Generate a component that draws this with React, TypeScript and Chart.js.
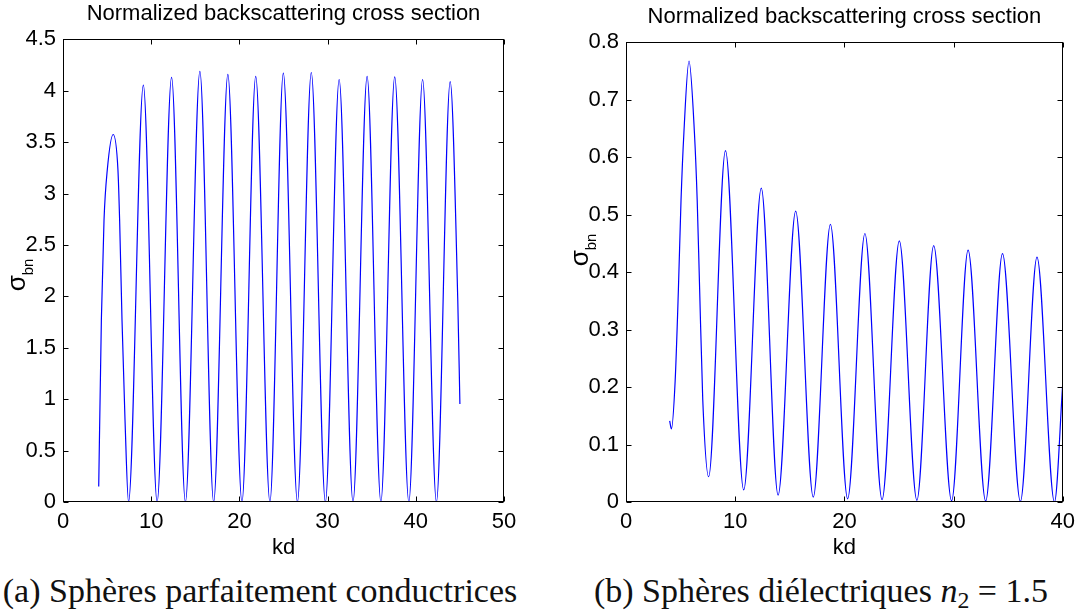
import { useEffect, useRef } from "react";
import { Chart, registerables } from "chart.js";

Chart.register(...registerables);

// ---------- Panel (a): perfectly conducting spheres ----------
const kdA = [4.05, 4.35, 4.65, 5.02, 5.69, 6.23, 6.42, 6.69, 7.03, 7.43, 9.11, 10.67, 12.31, 13.88, 15.52, 17.08, 18.69, 20.29, 21.85, 23.46, 24.98, 26.58, 28.15, 29.75, 31.31, 32.88, 34.48, 36.04, 37.61, 39.21, 40.77, 42.34, 43.9, 44.76, 45.0];
const sigmaA = [0.15, 1.77, 2.74, 3.23, 3.575, 3.23, 2.74, 1.77, 0.8, 0, 4.055, 0, 4.13, 0, 4.188, 0, 4.159, 0, 4.14, 0, 4.172, 0, 4.178, 0, 4.11, 0, 4.14, 0, 4.136, 0, 4.11, 0, 4.09, 1.96, 0.954];
const xTicksA = [0, 10, 20, 30, 40, 50];
const yTicksA = [0, 0.5, 1, 1.5, 2, 2.5, 3, 3.5, 4, 4.5];

// ---------- Panel (b): dielectric spheres n2 = 1.5 ----------
const kdB = [4.0, 4.16, 4.5, 4.8, 5.04, 5.3, 5.77, 6.27, 6.52, 6.73, 7.03, 7.57, 9.11, 10.78, 12.39, 13.93, 15.54, 17.15, 18.72, 20.3, 21.88, 23.45, 25.03, 26.64, 28.18, 29.82, 31.33, 32.94, 34.48, 36.12, 37.64, 39.24, 40.0];
const sigmaB = [0.141, 0.127, 0.21, 0.37, 0.525, 0.641, 0.767, 0.641, 0.525, 0.38, 0.178, 0.044, 0.611, 0.021, 0.546, 0.012, 0.506, 0.0085, 0.483, 0.0056, 0.467, 0.004, 0.454, 0.003, 0.446, 0.002, 0.438, 0.0015, 0.432, 0.001, 0.426, 0.0, 0.207];
const xTicksB = [0, 10, 20, 30, 40];
const yTicksB = [0, 0.1, 0.2, 0.3, 0.4, 0.5, 0.6, 0.7, 0.8];

const TITLE = "Normalized backscattering cross section";
const XLABEL = "kd";
const YSYM = "σ";
const YSUB = "bn";
const FONT = "'Liberation Sans', Arial, Helvetica, sans-serif";

const framePlugin = {
  id: "frame",
  afterDraw(chart: any, _args: any, opts: any) {
    const { ctx, chartArea: a, scales } = chart;
    const L = Math.round(a.left) + 0.5;
    const R = Math.round(a.right) - 0.5;
    const T = Math.round(a.top) + 0.5;
    const B = Math.round(a.bottom) - 0.5;
    const len = 5;
    ctx.save();
    ctx.strokeStyle = "#000";
    ctx.lineWidth = 1;
    ctx.strokeRect(L, T, R - L, B - T);
    ctx.beginPath();
    for (const t of scales.x.ticks) {
      const px = Math.round(scales.x.getPixelForValue(t.value)) + 0.5;
      ctx.moveTo(px, B);
      ctx.lineTo(px, B - len);
      ctx.moveTo(px, T);
      ctx.lineTo(px, T + len);
    }
    for (const t of scales.y.ticks) {
      const py = Math.round(scales.y.getPixelForValue(t.value)) + 0.5;
      ctx.moveTo(L, py);
      ctx.lineTo(L + len, py);
      ctx.moveTo(R, py);
      ctx.lineTo(R - len, py);
    }
    ctx.stroke();

    // y-axis label sigma_bn (rotated, with subscript)
    const symFont = `26px ${FONT}`;
    const subFont = `15px ${FONT}`;
    ctx.font = symFont;
    const w1 = ctx.measureText(YSYM).width;
    ctx.font = subFont;
    const w2 = ctx.measureText(YSUB).width;
    const symX = a.left - opts.symOffset;
    ctx.translate(symX, opts.cy);
    ctx.rotate(-Math.PI / 2);
    ctx.fillStyle = "#000";
    ctx.textBaseline = "alphabetic";
    ctx.textAlign = "left";
    const x0 = -(w1 + w2) / 2;
    ctx.font = symFont;
    ctx.fillText(YSYM, x0, 0);
    ctx.font = subFont;
    ctx.fillText(YSUB, x0 + w1, opts.subDrop);
    ctx.restore();
  },
};

type PanelProps = {
  kd: number[];
  sigma: number[];
  xTicks: number[];
  yTicks: number[];
  left: number;
  width: number;
  height: number;
  yAxisWidth: number;
  padRight: number;
  titlePad: { top: number; bottom: number };
  label: { symOffset: number; subDrop: number; cy: number };
};

function Panel(p: PanelProps) {
  const ref = useRef<HTMLCanvasElement>(null);
  useEffect(() => {
    const canvas = ref.current;
    if (!canvas) return;
    const points = p.kd.map((x, i) => ({ x, y: p.sigma[i] }));
    const xT = p.xTicks;
    const yT = p.yTicks;
    const tickFont = { family: FONT, size: 22, weight: "normal" as const };
    const chart = new Chart(canvas, {
      type: "line",
      data: {
        datasets: [
          {
            data: points,
            borderColor: "#0000ff",
            borderWidth: 1.2,
            pointRadius: 0,
            fill: false,
            cubicInterpolationMode: "monotone",
          },
        ],
      },
      options: {
        animation: false,
        responsive: false,
        devicePixelRatio: 1,
        layout: { padding: { left: 0, right: p.padRight, top: 0, bottom: 0 } },
        plugins: {
          legend: { display: false },
          tooltip: { enabled: false },
          title: {
            display: true,
            text: TITLE,
            fullSize: false,
            color: "#000",
            font: { family: FONT, size: 22, weight: "normal", lineHeight: 1.2 },
            padding: p.titlePad,
          },
          frame: p.label,
        } as any,
        scales: {
          x: {
            type: "linear",
            min: xT[0],
            max: xT[xT.length - 1],
            afterBuildTicks: (s: any) => {
              s.ticks = xT.map((v) => ({ value: v }));
            },
            afterFit: (s: any) => {
              s.height = 68;
            },
            grid: { display: false, drawTicks: false },
            border: { display: false },
            ticks: {
              color: "#000",
              font: tickFont,
              padding: 7,
              maxRotation: 0,
              autoSkip: false,
              callback: (v: any) => String(+v),
            },
            title: {
              display: true,
              text: XLABEL,
              color: "#000",
              font: tickFont,
              padding: { top: 0, bottom: 9 },
            },
          },
          y: {
            type: "linear",
            min: yT[0],
            max: yT[yT.length - 1],
            afterBuildTicks: (s: any) => {
              s.ticks = yT.map((v) => ({ value: v }));
            },
            afterFit: (s: any) => {
              s.width = p.yAxisWidth;
            },
            grid: { display: false, drawTicks: false },
            border: { display: false },
            ticks: {
              color: "#000",
              font: tickFont,
              padding: 7,
              autoSkip: false,
              callback: (v: any) => String(+v),
            },
          },
        },
      } as any,
      plugins: [framePlugin as any],
    });
    return () => chart.destroy();
  }, []);
  return (
    <canvas
      ref={ref}
      width={p.width}
      height={p.height}
      style={{ position: "absolute", left: p.left, top: 0, width: p.width, height: p.height }}
    />
  );
}

const captionStyle: any = {
  position: "absolute",
  top: 574,
  transform: "translateX(-50%)",
  fontFamily: "'Liberation Serif', 'Times New Roman', serif",
  fontSize: 34,
  lineHeight: "34px",
  whiteSpace: "nowrap",
  color: "#111",
};

export default function App() {
  return (
    <div style={{ position: "absolute", left: 0, top: 0, width: 1082, height: 615, background: "#fff", overflow: "hidden" }}>
      <Panel
        kd={kdA}
        sigma={sigmaA}
        xTicks={xTicksA}
        yTicks={yTicksA}
        left={0}
        width={560}
        height={570}
        yAxisWidth={63}
        padRight={56}
        titlePad={{ top: 1, bottom: 12 }}
        label={{ symOffset: 38, subDrop: 8, cy: 275 }}
      />
      <Panel
        kd={kdB}
        sigma={sigmaB}
        xTicks={xTicksB}
        yTicks={yTicksB}
        left={560}
        width={522}
        height={570}
        yAxisWidth={66}
        padRight={16}
        titlePad={{ top: 4, bottom: 11.6 }}
        label={{ symOffset: 38, subDrop: 8, cy: 250 }}
      />
      <div style={{ ...captionStyle, left: 260 }}>(a) Sphères parfaitement conductrices</div>
      <div style={{ ...captionStyle, left: 821 }}>
        (b) Sphères diélectriques <i>n</i>
        <span style={{ fontSize: "0.7em", verticalAlign: "-0.25em" }}>2</span> = 1.5
      </div>
    </div>
  );
}
